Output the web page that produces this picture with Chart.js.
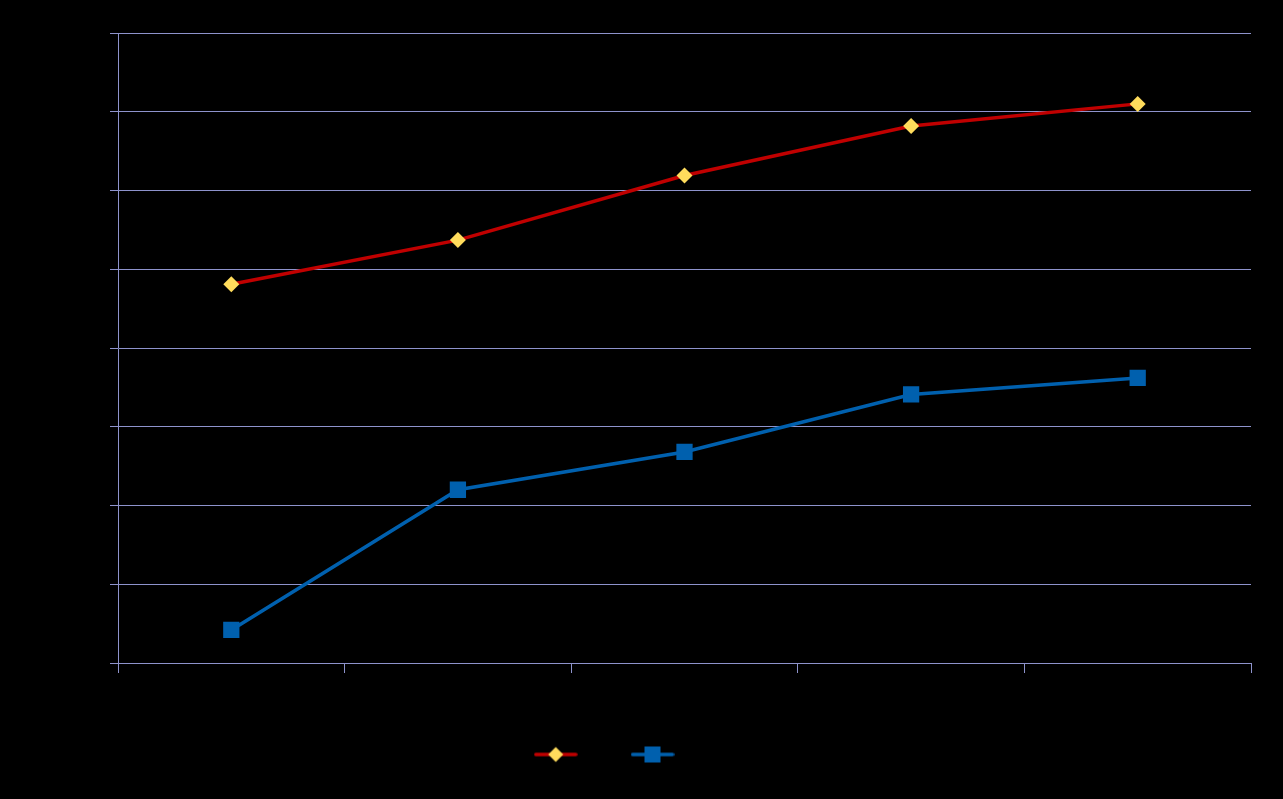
<!DOCTYPE html>
<html>
<head>
<meta charset="utf-8">
<script src="https://cdn.jsdelivr.net/npm/chart.js@4/dist/chart.umd.min.js"></script>
<style>
  html, body { margin: 0; padding: 0; background: #000; }
  #wrap { width: 1283px; height: 799px; }
</style>
</head>
<body>
<div id="wrap"><canvas id="myChart"></canvas></div>
<script>
const categories = ["1", "2", "3", "4", "5"];
const series1 = [4.81, 5.37, 6.19, 6.82, 7.10];
const series2 = [0.42, 2.20, 2.68, 3.41, 3.62];
const seriesNames = ["Series1", "Series2"];

const gridColor = "#8e93cc";
const redLine = "#c00000";
const yellow = "#ffdc5c";
const blue = "#0060ae";

// legend symbol: short line with a marker on it
function legendSymbol(color, markerColor, shape) {
  const c = document.createElement("canvas");
  c.width = 44; c.height = 18;
  const g = c.getContext("2d");
  g.strokeStyle = color;
  g.lineWidth = 3.5;
  g.lineCap = "round";
  g.beginPath(); g.moveTo(2, 9); g.lineTo(42, 9); g.stroke();
  g.fillStyle = markerColor;
  if (shape === "diamond") {
    g.beginPath(); g.moveTo(22, 1.5); g.lineTo(29.5, 9); g.lineTo(22, 16.5); g.lineTo(14.5, 9); g.closePath(); g.fill();
  } else {
    g.fillRect(14, 1, 16, 16);
  }
  return c;
}
const sym1 = legendSymbol(redLine, yellow, "diamond");
const sym2 = legendSymbol(blue, blue, "square");

new Chart("myChart", {
  type: "line",
  data: {
    labels: categories,
    datasets: [{
      label: seriesNames[0],
      data: series1,
      borderColor: redLine,
      borderWidth: 3.5,
      pointStyle: "rectRot",
      pointRadius: 8,
      pointHoverRadius: 8,
      pointBackgroundColor: yellow,
      pointBorderColor: yellow,
      pointBorderWidth: 0,
      tension: 0
    }, {
      label: seriesNames[1],
      data: series2,
      borderColor: blue,
      borderWidth: 3.5,
      pointStyle: "rect",
      pointRadius: 11.5,
      pointHoverRadius: 11.5,
      pointBackgroundColor: blue,
      pointBorderColor: blue,
      pointBorderWidth: 0,
      tension: 0
    }]
  },
  options: {
    responsive: true,
    maintainAspectRatio: false,
    animation: false,
    layout: { padding: { top: 33, right: 32, left: 0, bottom: 29 } },
    plugins: {
      tooltip: { enabled: false },
      legend: {
        position: "bottom",
        labels: {
          color: "#000",
          font: { family: "Liberation Sans", size: 11 },
          usePointStyle: true,
          pointStyleWidth: 44,
          padding: 10,
          generateLabels: (chart) => chart.data.datasets.map((ds, i) => ({
            text: ds.label,
            pointStyle: i === 0 ? sym1 : sym2,
            fillStyle: "transparent",
            strokeStyle: "transparent",
            lineWidth: 0,
            fontColor: "#000",
            datasetIndex: i
          }))
        }
      }
    },
    scales: {
      x: {
        offset: true,
        grid: { offset: true, drawOnChartArea: false, drawTicks: true, tickLength: 10, color: gridColor },
        border: { color: gridColor, width: 1 },
        ticks: { color: "#000", font: { family: "Liberation Sans", size: 13 } },
        afterFit: (s) => { s.height = 76; }
      },
      y: {
        min: 0,
        max: 8,
        ticks: { stepSize: 1, color: "#000", font: { family: "Liberation Sans", size: 13 } },
        grid: { color: gridColor, tickLength: 8, drawTicks: true },
        border: { color: gridColor, width: 1 },
        afterFit: (s) => { s.width = 118; }
      }
    }
  }
});
</script>
</body>
</html>
